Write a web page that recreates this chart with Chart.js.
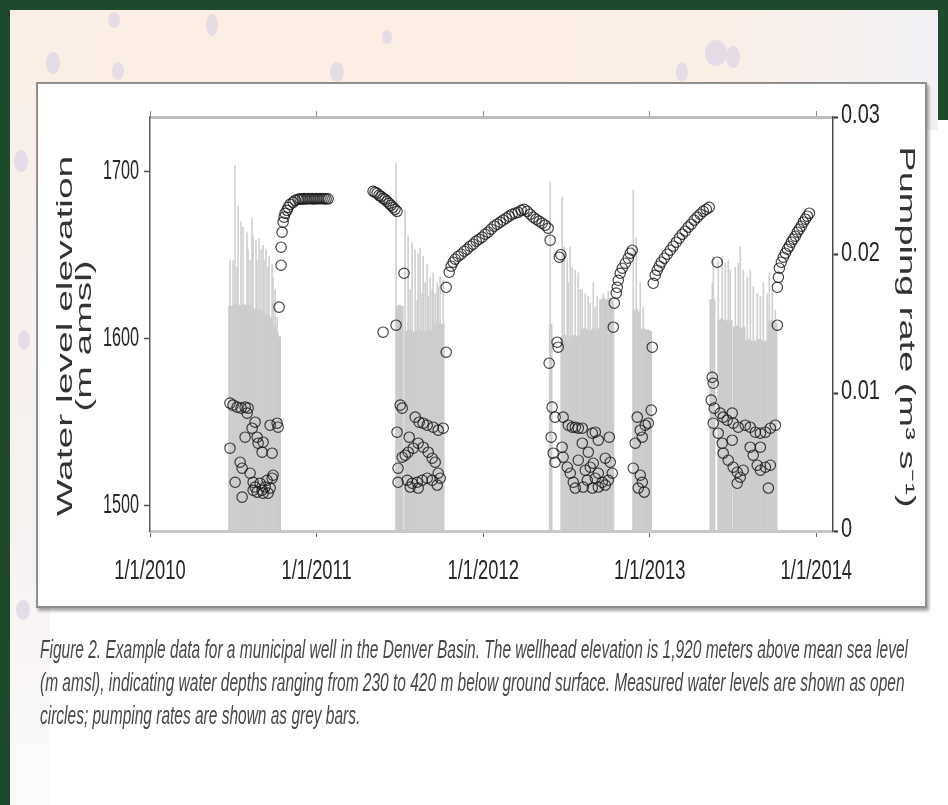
<!DOCTYPE html>
<html>
<head>
<meta charset="utf-8">
<title>Denver Basin municipal well</title>
<script src="https://cdn.jsdelivr.net/npm/chart.js@4.4.1/dist/chart.umd.min.js"></script>
<style>
  html, body { margin: 0; padding: 0; }
  body { width: 948px; height: 805px; overflow: hidden; position: relative; background: #ffffff;
         font-family: "Liberation Sans", Arial, sans-serif; }
  .band { position: absolute; left: 10px; top: 10px; width: 928px; height: 120px;
          background: linear-gradient(to right, #fbeee4 0%, #fdeee2 45%, #fbefe6 75%, #f2f1f5 100%); }
  .side { position: absolute; left: 10px; top: 100px; width: 40px; height: 705px;
          background: linear-gradient(to bottom, #f8efe9 0%, #f7f2f1 60%, #fbfafa 100%); }
  .blob { position: absolute; border-radius: 50%; background: #ddd5e6; opacity: 0.75; }
  .frame { position: absolute; background: #1d4a2b; }
  .box { position: absolute; left: 36px; top: 82px; width: 887px; height: 522px; background: #fff;
         border: 2px solid #8e8e8e; box-shadow: 2px 3px 3px rgba(0,0,0,0.35); }
  canvas { position: absolute; left: 0; top: 0; }
  .caption { position: absolute; left: 40px; top: 633px; color: #474747; font-style: italic;
             font-size: 25px; line-height: 33px; }
  .caption span { display: block; white-space: nowrap; transform-origin: 0 50%; }
</style>
</head>
<body>
<div class="band"></div>
<div class="side"></div>
<div class="blob" style="left:46px;top:52px;width:14px;height:22px"></div>
<div class="blob" style="left:108px;top:12px;width:12px;height:16px"></div>
<div class="blob" style="left:206px;top:14px;width:12px;height:22px"></div>
<div class="blob" style="left:112px;top:62px;width:12px;height:18px"></div>
<div class="blob" style="left:330px;top:62px;width:14px;height:20px"></div>
<div class="blob" style="left:382px;top:30px;width:10px;height:14px"></div>
<div class="blob" style="left:676px;top:62px;width:12px;height:20px"></div>
<div class="blob" style="left:705px;top:40px;width:22px;height:26px"></div>
<div class="blob" style="left:726px;top:46px;width:14px;height:22px"></div>
<div class="blob" style="left:14px;top:150px;width:14px;height:22px"></div>
<div class="blob" style="left:18px;top:330px;width:12px;height:20px"></div>
<div class="blob" style="left:16px;top:600px;width:14px;height:20px"></div>
<div class="frame" style="left:0;top:0;width:948px;height:10px"></div>
<div class="frame" style="left:0;top:0;width:10px;height:805px"></div>
<div class="frame" style="left:938px;top:0;width:10px;height:120px"></div>
<div class="box"></div>
<canvas id="chart" width="948" height="805"></canvas>
<div class="caption" id="caption">
  <span>Figure 2. Example data for a municipal well in the Denver Basin. The wellhead elevation is 1,920 meters above mean sea level</span>
  <span>(m amsl), indicating water depths ranging from 230 to 420 m below ground surface. Measured water levels are shown as open</span>
  <span>circles; pumping rates are shown as grey bars.</span>
</div>
<script>
// ---- axis ticks and labels ----
const yearTicks  = [2010, 2011, 2012, 2013, 2014];
const yearLabels = ['1/1/2010', '1/1/2011', '1/1/2012', '1/1/2013', '1/1/2014'];
const levelTicks = [1500, 1600, 1700];
const rateTicks  = [0, 0.01, 0.02, 0.03];
const rateLabels = ['0', '0.01', '0.02', '0.03'];
const levelTitle = ['Water level elevation', '(m amsl)'];
const rateTitle  = 'Pumping rate (m\u00B3 s\u207B\u00B9)';

// ---- measured water levels: [decimal year, elevation m amsl] ----
const levels2010 = [
  [2010.480,1561.1],[2010.498,1559.9],[2010.523,1558.7],[2010.547,1558.1],[2010.571,1558.7],
  [2010.589,1558.1],[2010.583,1555.1],[2010.631,1549.7],[2010.613,1546.1],[2010.571,1540.7],
  [2010.480,1534.1],[2010.643,1540.7],[2010.649,1537.1],[2010.679,1537.7],[2010.673,1531.7],
  [2010.733,1531.1],[2010.721,1547.9],[2010.763,1549.1],[2010.769,1546.7],[2010.541,1525.7],
  [2010.553,1522.1],[2010.601,1519.1],[2010.511,1513.7],[2010.553,1504.8],[2010.619,1513.7],
  [2010.631,1510.8],[2010.661,1513.1],[2010.673,1508.9],[2010.709,1507.2],[2010.733,1516.1],
  [2010.739,1517.9],[2010.703,1514.9],[2010.643,1507.8],[2010.679,1507.2],[2010.691,1510.8],
  [2010.721,1510.2],[2010.619,1508.9],
  [2010.775,1618.6],[2010.787,1643.7],[2010.787,1654.5],[2010.793,1663.5],[2010.799,1669.5],
  [2010.805,1672.5],[2010.811,1674.8],[2010.823,1676.6],[2010.829,1678.4],[2010.841,1680.2],
  [2010.859,1681.4],[2010.871,1682.6],[2010.889,1683.2],
  [2010.901,1683.5],[2010.913,1683.3],[2010.925,1683.6],[2010.937,1683.4],[2010.949,1683.7],
  [2010.961,1683.5],[2010.973,1683.6],[2010.985,1683.4],[2010.997,1683.6],[2011.009,1683.5],
  [2011.021,1683.7],[2011.033,1683.5],[2011.045,1683.6],[2011.057,1683.4],[2011.069,1683.5]
];
const levels2011 = [
  [2011.339,1688.0],[2011.351,1687.4],[2011.363,1686.8],[2011.375,1685.6],[2011.387,1685.0],
  [2011.399,1683.8],[2011.411,1683.2],[2011.423,1682.0],[2011.435,1680.8],[2011.447,1679.6],
  [2011.459,1678.4],[2011.471,1677.2],[2011.483,1676.0],
  [2011.399,1603.6],[2011.477,1607.8],[2011.525,1638.9],
  [2011.502,1559.9],[2011.514,1558.1],[2011.483,1543.7],[2011.556,1540.7],[2011.592,1552.7],
  [2011.616,1549.7],[2011.640,1549.1],[2011.664,1547.9],[2011.700,1546.7],[2011.730,1544.9],
  [2011.760,1546.1],[2011.489,1522.1],[2011.514,1528.7],[2011.532,1529.9],[2011.550,1531.7],
  [2011.580,1534.1],[2011.610,1537.1],[2011.640,1534.7],[2011.670,1531.7],[2011.694,1528.1],
  [2011.712,1525.7],[2011.730,1519.1],[2011.742,1516.1],[2011.489,1513.7],[2011.544,1514.9],
  [2011.574,1513.1],[2011.604,1513.7],[2011.634,1514.9],[2011.664,1516.1],[2011.694,1514.9],
  [2011.724,1512.0],[2011.562,1510.8],[2011.610,1510.2],
  [2011.778,1591.6],[2011.778,1630.5],[2011.796,1639.5],[2011.808,1643.1],[2011.820,1645.5],
  [2011.832,1647.3],[2011.850,1649.1],[2011.868,1650.3],[2011.886,1652.1],[2011.904,1653.3],
  [2011.922,1655.1],[2011.940,1656.3],[2011.958,1658.1],[2011.976,1659.3],[2011.994,1660.5],
  [2012.012,1662.3],[2012.030,1663.5],[2012.048,1665.3],[2012.066,1667.1],[2012.084,1668.3],
  [2012.102,1669.5],[2012.120,1670.7],[2012.138,1671.9],[2012.156,1673.1],[2012.174,1674.3],
  [2012.192,1674.9],[2012.210,1675.4],[2012.228,1676.6],[2012.246,1677.2],[2012.264,1676.0],
  [2012.282,1674.3],[2012.300,1672.5],[2012.318,1671.3],[2012.336,1670.1],[2012.354,1668.9],
  [2012.372,1667.7],[2012.390,1665.9],[2012.402,1658.7]
];
const levels2012 = [
  [2012.457,1648.5],[2012.466,1650.0],[2012.444,1597.6],[2012.450,1594.6],[2012.396,1585.0],
  [2012.414,1558.7],[2012.432,1552.7],[2012.480,1552.7],[2012.408,1540.7],[2012.420,1531.1],
  [2012.432,1525.7],[2012.511,1547.9],[2012.535,1546.7],[2012.553,1546.7],[2012.571,1546.1],
  [2012.595,1546.1],[2012.655,1543.1],[2012.673,1543.7],[2012.691,1538.9],[2012.757,1540.7],
  [2012.474,1534.7],[2012.480,1528.7],[2012.505,1522.7],[2012.523,1519.1],[2012.541,1513.7],
  [2012.553,1510.2],[2012.601,1510.8],[2012.571,1526.9],[2012.613,1520.9],[2012.643,1522.7],
  [2012.661,1525.1],[2012.673,1516.1],[2012.691,1519.1],[2012.715,1513.7],[2012.733,1512.0],
  [2012.751,1514.9],[2012.775,1519.1],[2012.763,1525.7],[2012.733,1528.1],[2012.631,1531.7],
  [2012.595,1537.1],[2012.655,1510.2],[2012.691,1510.8],[2012.625,1514.9],
  [2012.781,1606.6],[2012.787,1621.0],[2012.799,1627.0],[2012.805,1630.5],[2012.811,1634.7],
  [2012.823,1638.9],[2012.835,1641.9],[2012.853,1644.9],[2012.871,1647.9],[2012.883,1650.9],
  [2012.895,1652.7],
  [2013.015,1594.6],[2013.009,1556.9],[2012.991,1549.1],[2012.973,1547.9],[2012.925,1552.7],
  [2012.943,1544.9],[2012.913,1537.1],[2012.955,1540.7],[2012.901,1522.1],[2012.943,1517.9],
  [2012.955,1513.7],[2012.967,1507.8],[2012.931,1510.2],
  [2013.021,1632.9],[2013.033,1637.7],[2013.045,1640.7],[2013.057,1643.1],[2013.069,1645.5],
  [2013.087,1647.9],[2013.105,1650.3],[2013.123,1652.7],[2013.141,1655.1],[2013.159,1657.5],
  [2013.177,1659.9],[2013.195,1662.3],[2013.213,1664.1],[2013.231,1666.5],[2013.249,1668.3],
  [2013.267,1670.7],[2013.285,1672.5],[2013.303,1674.3],[2013.321,1676.0],[2013.339,1677.2],
  [2013.357,1678.4]
];
const levels2013 = [
  [2013.405,1645.5],
  [2013.375,1576.6],[2013.381,1573.0],[2013.369,1562.9],[2013.387,1558.1],[2013.381,1549.1],
  [2013.423,1555.1],[2013.441,1552.7],[2013.465,1550.9],[2013.495,1555.1],[2013.501,1549.1],
  [2013.531,1546.7],[2013.573,1547.9],[2013.603,1546.7],[2013.634,1543.7],[2013.664,1543.1],
  [2013.694,1543.7],[2013.724,1546.1],[2013.754,1547.9],[2013.411,1543.1],[2013.435,1537.1],
  [2013.441,1531.1],[2013.471,1526.9],[2013.501,1522.7],[2013.525,1519.7],[2013.543,1516.7],
  [2013.525,1513.1],[2013.561,1520.9],[2013.621,1529.9],[2013.645,1523.9],[2013.664,1520.9],
  [2013.694,1522.7],[2013.724,1523.9],[2013.712,1510.2],[2013.495,1538.9],[2013.603,1534.7],
  [2013.664,1534.7],
  [2013.766,1607.8],[2013.766,1630.5],[2013.772,1636.5],[2013.778,1641.9],[2013.790,1645.5],
  [2013.802,1648.5],[2013.814,1650.9],[2013.826,1653.3],[2013.838,1655.1],[2013.850,1657.5],
  [2013.862,1659.3],[2013.874,1661.1],[2013.886,1663.5],[2013.898,1665.3],[2013.910,1667.1],
  [2013.922,1669.5],[2013.934,1671.3],[2013.946,1673.1],[2013.958,1674.9]
];

// ---- pumping rate (m3/s): 5-day records, one run per continuous pumping stretch ----
const pumpStep = 5 / 365.25;
const pumpRunStarts = [2010.4805, 2010.5015, 2011.4841, 2011.5381, 2012.4054,
                       2012.4745, 2012.9069, 2013.3694, 2013.4174, 2013.5093];
const pumpRunRates = [
  [0.0163],
  [0.0164,0.0165,0.0164,0.0163,0.0164,0.0164,0.0163,0.0164,0.0162,0.0161,0.0161,
   0.0160,0.0160,0.0159,0.0157,0.0156,0.0155,0.0151,0.0149,0.0144,0.0141],
  [0.0163,0.0164,0.0163],
  [0.0145,0.0146,0.0145,0.0144,0.0145,0.0145,0.0146,0.0145,0.0144,0.0145,0.0146,
   0.0145,0.0146,0.0150,0.0151,0.0150,0.0150],
  [0.0150],
  [0.0141,0.0142,0.0141,0.0140,0.0141,0.0142,0.0141,0.0141,0.0142,0.0146,0.0147,
   0.0146,0.0145,0.0146,0.0147,0.0146,0.0147,0.0168,0.0169,0.0168,0.0168,0.0169,0.0167],
  [0.0160,0.0161,0.0159,0.0146,0.0147,0.0146,0.0146,0.0145],
  [0.0168,0.0168],
  [0.0153,0.0154,0.0153,0.0152,0.0153,0.0153],
  [0.0148,0.0149,0.0148,0.0147,0.0148,0.0138,0.0139,0.0138,0.0137,0.0138,0.0138,
   0.0139,0.0138,0.0137,0.0138,0.0152,0.0153,0.0152,0.0151]
];
// single high-rate days: [decimal year, rate]
const pumpPeaks2010 = [
  [2010.4805,0.0196],[2010.4985,0.0196],[2010.5105,0.0265],[2010.5225,0.0191],[2010.5285,0.0235],
  [2010.5465,0.0224],[2010.5586,0.0220],[2010.5826,0.0216],[2010.5886,0.0204],[2010.6006,0.0196],
  [2010.6126,0.0227],[2010.6186,0.0214],[2010.6366,0.0211],[2010.6426,0.0196],[2010.6547,0.0212],
  [2010.6667,0.0204],[2010.6787,0.0207],[2010.6847,0.0196],[2010.6967,0.0204],[2010.7087,0.0191],
  [2010.7147,0.0199],[2010.7327,0.0193],[2010.7387,0.0184],[2010.7508,0.0175],[2010.7628,0.0155]
];
const pumpPeaks2011 = [
  [2011.4775,0.0267],[2011.5315,0.0233],[2011.5495,0.0214],[2011.5616,0.0175],[2011.5736,0.0209],
  [2011.5916,0.0204],[2011.6036,0.0167],[2011.6096,0.0201],[2011.6216,0.0205],[2011.6336,0.0172],
  [2011.6396,0.0199],[2011.6517,0.0180],[2011.6637,0.0193],[2011.6697,0.0170],[2011.6817,0.0184],
  [2011.6937,0.0175],[2011.6997,0.0187],[2011.7117,0.0172],[2011.7237,0.0180],[2011.7297,0.0177],
  [2011.7417,0.0184],[2011.7598,0.0182]
];
const pumpPeaks2012 = [
  [2012.4024,0.0253],[2012.4745,0.0242],[2012.4865,0.0206],[2012.5045,0.0196],[2012.5105,0.0180],
  [2012.5225,0.0206],[2012.5345,0.0191],[2012.5526,0.0189],[2012.5706,0.0187],[2012.5826,0.0175],
  [2012.5946,0.0175],[2012.6126,0.0172],[2012.6306,0.0170],[2012.6426,0.0165],[2012.6607,0.0180],
  [2012.6727,0.0162],[2012.6847,0.0170],[2012.7207,0.0172],[2012.7508,0.0174],
  [2012.9009,0.0247],[2012.9189,0.0213],[2012.9429,0.0180],[2012.9610,0.0162]
];
const pumpPeaks2013 = [
  [2013.3754,0.0180],[2013.3814,0.0199],[2013.4114,0.0196],[2013.4354,0.0199],[2013.4535,0.0194],
  [2013.4715,0.0196],[2013.4835,0.0189],[2013.5135,0.0191],[2013.5315,0.0194],[2013.5435,0.0206],
  [2013.5616,0.0189],[2013.5856,0.0184],[2013.6036,0.0189],[2013.6216,0.0177],[2013.6456,0.0172],
  [2013.6637,0.0170],[2013.6817,0.0180],[2013.7057,0.0172],[2013.7177,0.0187],[2013.7357,0.0175],
  [2013.7538,0.0160]
];

// ---- build chart tables ----
const toXY = p => ({ x: p[0], y: p[1] });
const waterLevels = [...levels2010, ...levels2011, ...levels2012, ...levels2013].map(toXY);
const pumpBase = [];
pumpRunStarts.forEach((start, r) => {
  pumpRunRates[r].forEach((rate, i) => pumpBase.push({ x: start + i * pumpStep, y: rate }));
});
const pumpPeaks = [...pumpPeaks2010, ...pumpPeaks2011, ...pumpPeaks2012, ...pumpPeaks2013].map(toXY);

// ---- layout and style ----
const FONT = '"Liberation Sans", Arial, sans-serif';
const DATE_SQUEEZE = 0.68;
const LEVEL_SQUEEZE = 0.6;
const RATE_SQUEEZE = 0.74;
const TITLE_SQUEEZE = 0.56;
const TICK_SIZE = 27;
const TITLE_SIZE = 39;
const RATE_TITLE_SIZE = 38;
const X_MIN = 2010, X_MAX = 2014.1;

function squeezedText(ctx, text, px, py, rot, k) {
  ctx.save();
  ctx.translate(px, py);
  ctx.scale(k, 1);
  ctx.rotate(rot);
  ctx.fillText(text, 0, 0);
  ctx.restore();
}

const labelPlugin = {
  id: 'axisText',
  afterDraw(chart) {
    const { ctx, chartArea: a } = chart;
    const { x, y, yR } = chart.scales;
    ctx.save();
    ctx.fillStyle = '#262626';
    ctx.font = TICK_SIZE + 'px ' + FONT;
    ctx.textBaseline = 'middle';
    ctx.textAlign = 'center';
    yearTicks.forEach((v, i) => squeezedText(ctx, yearLabels[i], x.getPixelForValue(v), a.bottom + 41, 0, DATE_SQUEEZE));
    ctx.textAlign = 'right';
    levelTicks.forEach(v => squeezedText(ctx, String(v), a.left - 11, y.getPixelForValue(v), 0, LEVEL_SQUEEZE));
    ctx.textAlign = 'left';
    rateTicks.forEach((v, i) => squeezedText(ctx, rateLabels[i], a.right + 8, yR.getPixelForValue(v) - 1, 0, RATE_SQUEEZE));

    ctx.fillStyle = '#333333';
    ctx.textAlign = 'center';
    ctx.textBaseline = 'alphabetic';
    ctx.font = TITLE_SIZE + 'px ' + FONT;
    const midL = (a.top + a.bottom) / 2 + 12;
    squeezedText(ctx, levelTitle[0], a.left - 78, midL, -Math.PI / 2, TITLE_SQUEEZE);
    squeezedText(ctx, levelTitle[1], a.left - 59, midL, -Math.PI / 2, TITLE_SQUEEZE);
    ctx.font = RATE_TITLE_SIZE + 'px ' + FONT;
    squeezedText(ctx, rateTitle, a.right + 67, (a.top + a.bottom) / 2 + 3, Math.PI / 2, TITLE_SQUEEZE);
    ctx.restore();
  }
};

const tickSetter = values => scale => { scale.ticks = values.map(v => ({ value: v })); };

new Chart(document.getElementById('chart'), {
  type: 'scatter',
  data: {
    datasets: [
      {
        type: 'scatter', label: 'Water level', data: waterLevels,
        xAxisID: 'x', yAxisID: 'y', order: 0,
        pointRadius: 5.2, pointBorderWidth: 1.15,
        pointBackgroundColor: 'rgba(0,0,0,0)', pointBorderColor: 'rgba(20,20,20,0.82)'
      },
      {
        type: 'bar', label: 'Pumping rate', data: pumpPeaks,
        xAxisID: 'xs', yAxisID: 'yR', order: 1, grouped: false,
        barThickness: 1, backgroundColor: 'rgba(205,205,205,0.95)', borderWidth: 0
      },
      {
        type: 'bar', label: 'Pumping rate (base)', data: pumpBase,
        xAxisID: 'x', yAxisID: 'yR', order: 2, grouped: false,
        categoryPercentage: 1, barPercentage: 1.6,
        backgroundColor: '#cbcbcb', borderWidth: 0
      }
    ]
  },
  options: {
    responsive: false,
    animation: false,
    events: [],
    layout: { padding: 0 },
    plugins: { legend: { display: false }, tooltip: { enabled: false } },
    scales: {
      x: {
        type: 'linear', position: 'bottom', min: X_MIN, max: X_MAX, offset: false,
        afterBuildTicks: tickSetter(yearTicks),
        afterFit: s => { s.height = 805 - 531; },
        ticks: { display: false },
        grid: { offset: false, drawOnChartArea: false, drawTicks: true, tickLength: 6, tickColor: '#6a6a6a', tickWidth: 1 },
        border: { display: true, color: '#c8c8c8', width: 3 }
      },
      xTop: {
        type: 'linear', position: 'top', min: X_MIN, max: X_MAX, offset: false,
        afterBuildTicks: tickSetter(yearTicks),
        afterFit: s => { s.height = 117; },
        ticks: { display: false },
        grid: { offset: false, drawOnChartArea: false, drawTicks: true, tickLength: 6, tickColor: '#8a8a8a', tickWidth: 1 },
        border: { display: true, color: '#bdbdbd', width: 3 }
      },
      xs: {
        type: 'linear', position: 'bottom', min: X_MIN, max: X_MAX, offset: false,
        grid: { offset: false }, display: false
      },
      y: {
        type: 'linear', position: 'left', min: 1484.5, max: 1732.5,
        afterBuildTicks: tickSetter(levelTicks),
        afterFit: s => { s.width = 150; },
        ticks: { display: false },
        grid: { drawOnChartArea: false, drawTicks: true, tickLength: 6, tickColor: '#4a4a4a', tickWidth: 1.5 },
        border: { display: true, color: '#5c5c5c', width: 1.5 }
      },
      yR: {
        type: 'linear', position: 'right', min: 0, max: 0.03,
        afterBuildTicks: tickSetter(rateTicks),
        afterFit: s => { s.width = 948 - 833; },
        ticks: { display: false },
        grid: { drawOnChartArea: false, drawTicks: true, tickLength: 5, tickColor: '#333333', tickWidth: 2 },
        border: { display: true, color: '#4a4a4a', width: 1.5 }
      }
    }
  },
  plugins: [labelPlugin]
});

// caption lines are set in a narrow face: squeeze them to the figure width
(function fitCaption() {
  const spans = document.querySelectorAll('#caption span');
  const w = spans[0].getBoundingClientRect().width;
  const k = 868 / w;
  spans.forEach(s => { s.style.transform = 'scaleX(' + k + ')'; });
})();
</script>
</body>
</html>
